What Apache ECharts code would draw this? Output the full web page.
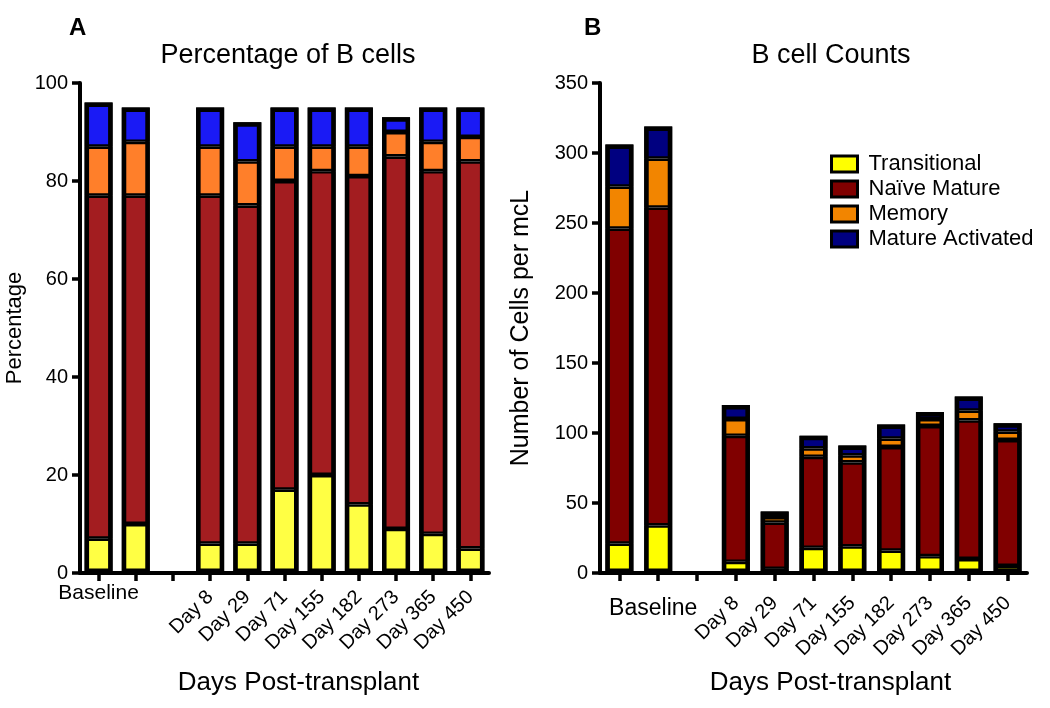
<!DOCTYPE html>
<html>
<head>
<meta charset="utf-8">
<script src="https://cdn.jsdelivr.net/npm/echarts@6/dist/echarts.min.js"></script>
<style>
  html, body { margin: 0; padding: 0; background: #fff; }
  #chart { width: 1050px; height: 708px; }
</style>
</head>
<body>
<div id="chart"></div>
<script>
// ---- Data ----
const categories = ['Baseline', 'Baseline', '', 'Day 8', 'Day 29', 'Day 71', 'Day 155', 'Day 182', 'Day 273', 'Day 365', 'Day 450'];
const seriesNames = ['Transitional', 'Naïve Mature', 'Memory', 'Mature Activated'];

// Panel A: percentage of B cells
const pctTransitional = [7, 10, null, 6, 6, 17, 20, 14, 9, 8, 5];
const pctNaive        = [70, 67, null, 71, 69, 63, 62, 67, 76, 74, 79];
const pctMemory       = [10, 11, null, 10, 9, 7, 5, 6, 5, 6, 5];
const pctActivated    = [9, 7, null, 8, 8, 8, 8, 8, 3, 7, 6];

// Panel B: B cell counts (cells per mcL)
const cntTransitional = [21, 34, null, 8, 3, 18, 19, 16, 12, 10, 5];
const cntNaive        = [225, 227, null, 90, 33, 65, 60, 74, 93, 99, 90];
const cntMemory       = [30, 35, null, 12, 4, 6, 5, 6, 5, 7, 6];
const cntActivated    = [30, 23, null, 10, 4, 9, 7, 10, 5, 10, 6];

const pctTicks = { min: 0, max: 100, interval: 20 };
const cntTicks = { min: 0, max: 350, interval: 50 };

// ---- Styles ----
const FONT = "'Liberation Sans', Arial, sans-serif";
const colorsA = ['#FFFF44', '#A31D20', '#FF7F2A', '#1A1AF5'];
const colorsB = ['#FFFF00', '#800000', '#F28500', '#000080'];
const SEG_BORDER = 2.4;
const FRAME_BORDER = 4.5;
const BAR_W = 28;

function yAxisCfg(grid, ticks, name, gap, fs, nfs) {
  return {
    type: 'value', gridIndex: grid, min: ticks.min, max: ticks.max, interval: ticks.interval,
    name: name, nameLocation: 'middle', nameGap: gap,
    nameTextStyle: { fontFamily: FONT, fontSize: nfs, color: '#000' },
    axisLine: { show: true, lineStyle: { color: '#000', width: 4 } },
    axisTick: { show: true, length: 8, lineStyle: { color: '#000', width: 3.5 } },
    axisLabel: { fontFamily: FONT, fontSize: fs, color: '#000', margin: 12 },
    splitLine: { show: false }
  };
}

function xDaysAxis(grid, margin, namePad) {
  return {
    type: 'category', gridIndex: grid, data: categories, position: 'bottom',
    name: 'Days Post-transplant', nameLocation: 'middle', nameGap: 97,
    nameTextStyle: { fontFamily: FONT, fontSize: 26, color: '#000', padding: [0, 0, 0, namePad] },
    axisLine: { show: true, lineStyle: { color: '#000', width: 4 } },
    axisTick: { show: true, alignWithLabel: true, length: 8, lineStyle: { color: '#000', width: 3.5 } },
    axisLabel: {
      interval: 0, rotate: 45, margin: margin, fontFamily: FONT, fontSize: 20, color: '#000',
      formatter: v => (v.indexOf('Day') === 0 ? v : '')
    }
  };
}

function xBaselineAxis(grid, margin, showIndex, fs, pad) {
  return {
    type: 'category', gridIndex: grid, data: categories, position: 'bottom',
    axisLine: { show: false }, axisTick: { show: false },
    axisLabel: {
      interval: 0, margin: margin, fontFamily: FONT, fontSize: fs, color: '#000', padding: pad,
      formatter: (v, i) => (i === showIndex ? v : '')
    }
  };
}

function barSeries(name, data, color, xi, yi, stack) {
  return {
    type: 'bar', name: name, data: data, stack: stack,
    xAxisIndex: xi, yAxisIndex: yi, barWidth: BAR_W, barGap: '-100%',
    itemStyle: { color: color, borderColor: '#000', borderWidth: SEG_BORDER },
    emphasis: { disabled: true }
  };
}

function totals(arrs) {
  return arrs[0].map((_, i) => (arrs[0][i] == null ? null : arrs.reduce((s, a) => s + a[i], 0)));
}

function frameSeries(data, xi, yi) {
  return {
    type: 'bar', name: 'frame', data: data, z: 5,
    xAxisIndex: xi, yAxisIndex: yi, barWidth: BAR_W, barGap: '-100%',
    itemStyle: { color: 'rgba(0,0,0,0)', borderColor: '#000', borderWidth: FRAME_BORDER },
    emphasis: { disabled: true }, silent: true
  };
}

const dataA = [pctTransitional, pctNaive, pctMemory, pctActivated];
const dataB = [cntTransitional, cntNaive, cntMemory, cntActivated];

const series = [];
seriesNames.forEach((n, i) => series.push(barSeries(n, dataB[i], colorsB[i], 2, 1, 'B')));
series.push(frameSeries(totals(dataB), 2, 1));
seriesNames.forEach((n, i) => series.push(barSeries(n, dataA[i], colorsA[i], 0, 0, 'A')));
series.push(frameSeries(totals(dataA), 0, 0));

const option = {
  animation: false,
  backgroundColor: '#fff',
  textStyle: { fontFamily: FONT },
  title: [
    { text: 'A', left: 64, top: 11, textStyle: { fontFamily: FONT, fontSize: 24, fontWeight: 'bold', color: '#000' } },
    { text: 'B', left: 579, top: 11, textStyle: { fontFamily: FONT, fontSize: 24, fontWeight: 'bold', color: '#000' } },
    { text: 'Percentage of B cells', left: 283, top: 37, textAlign: 'center', textStyle: { fontFamily: FONT, fontSize: 27, fontWeight: 'normal', color: '#000' } },
    { text: 'B cell Counts', left: 826, top: 37, textAlign: 'center', textStyle: { fontFamily: FONT, fontSize: 27, fontWeight: 'normal', color: '#000' } }
  ],
  legend: {
    orient: 'vertical', left: 825, top: 148,
    itemWidth: 26, itemHeight: 16, itemGap: 3,
    icon: 'rect',
    selectedMode: false,
    textStyle: { fontFamily: FONT, fontSize: 22, color: '#000', padding: [0, 0, 0, 6] },
    data: seriesNames.map((n, i) => ({ name: n, itemStyle: { color: colorsB[i], borderColor: '#000', borderWidth: 3 } }))
  },
  grid: [
    { left: 80, top: 83, width: 409, height: 490, containLabel: false },
    { left: 600, top: 83, width: 427, height: 490, containLabel: false }
  ],
  xAxis: [
    xDaysAxis(0, 21, 28),
    xBaselineAxis(0, 10, 0, 21, [0, 0, 0, 0]),
    xDaysAxis(1, 27, 34),
    xBaselineAxis(1, 24, 1, 23, [0, 10, 0, 0])
  ],
  yAxis: [
    yAxisCfg(0, pctTicks, 'Percentage', 54, 20, 22),
    yAxisCfg(1, cntTicks, 'Number of Cells per mcL', 66, 20, 25)
  ],
  series: series
};

const chart = echarts.init(document.getElementById('chart'), null, { renderer: 'canvas' });
chart.setOption(option);
</script>
</body>
</html>
